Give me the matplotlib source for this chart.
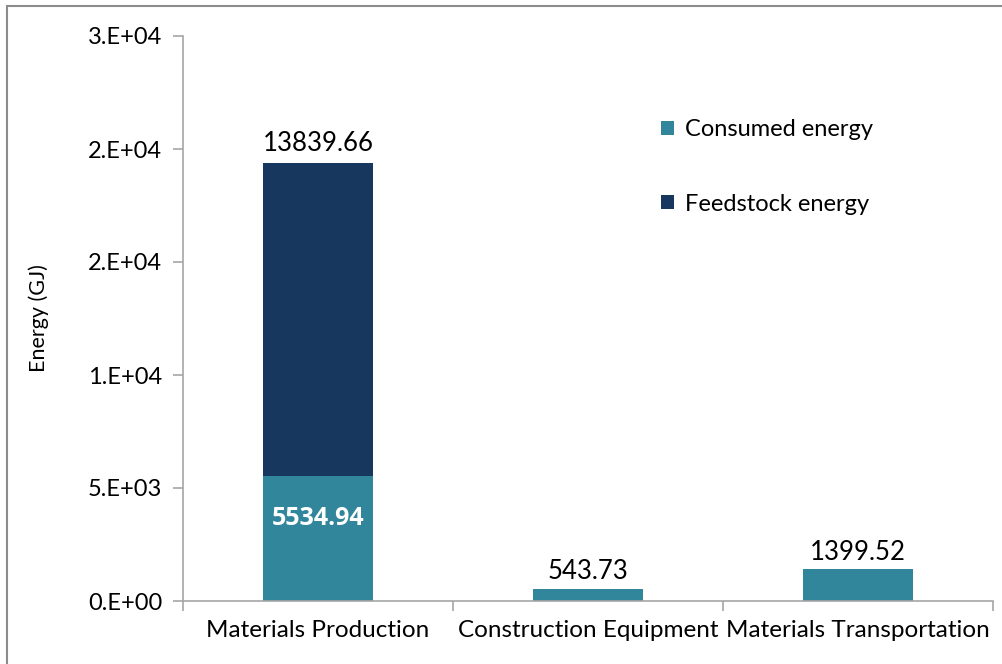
import matplotlib.pyplot as plt
from matplotlib.patches import Rectangle

plt.rcParams['font.family'] = ['Lato', 'DejaVu Sans']

# data
categories = ['Materials Production', 'Construction Equipment', 'Materials Transportation']
consumed = [5534.94, 543.73, 1399.52]
feedstock = [13839.66, 0, 0]
yticks = [0, 5000, 10000, 15000, 20000, 25000]
ytick_labels = ['0.E+00', '5.E+03', '1.E+04', '2.E+04', '2.E+04', '3.E+04']

teal = '#31869B'
navy = '#17375E'
gray = '#A6A6A6'

fig = plt.figure(figsize=(10.03, 6.64), dpi=100)
ax = fig.add_axes([183/1003, 1 - 601/664, 810/1003, 565/664])

x = list(range(len(categories)))
ax.bar(x, consumed, width=0.404, color=teal, label='Consumed energy')
ax.bar(x[:1], feedstock[:1], bottom=consumed[:1], width=0.404, color=navy,
       label='Feedstock energy')

# labels
ax.text(0, consumed[0] + feedstock[0] + 300, f'{feedstock[0]:.2f}', ha='center',
        va='bottom', fontsize=18.5)
ax.text(0, consumed[0] - 1900, f'{consumed[0]:.2f}', ha='center', va='center',
        fontsize=18, color='white', fontweight='bold', family=['Open Sans', 'DejaVu Sans'])
for i in (1, 2):
    ax.text(i, consumed[i] + 200, f'{consumed[i]:.2f}', ha='center', va='bottom',
            fontsize=18.5)

ax.set_xlim(-0.5, 2.5)
ax.set_ylim(0, 25000)
ax.set_yticks(yticks)
ax.set_yticklabels(ytick_labels, fontsize=17)
ax.set_xticks(x)
ax.set_xticklabels(categories, fontsize=17.5)
ax.tick_params(axis='x', length=0, pad=14)
ax.set_xticks([-0.5, 0.5, 1.5, 2.5], minor=True)
ax.tick_params(axis='x', which='minor', length=7, color=gray, width=1.2)
ax.tick_params(axis='y', length=7, color=gray, width=1.2, pad=8)
ax.set_ylabel('Energy (GJ)', fontsize=15.5, labelpad=28)

for s in ('top', 'right'):
    ax.spines[s].set_visible(False)
for s in ('left', 'bottom'):
    ax.spines[s].set_color(gray)
    ax.spines[s].set_linewidth(1.2)

ax.legend(loc='upper left', bbox_to_anchor=(0.564, 0.89), frameon=False, fontsize=17,
          handlelength=0.55, handleheight=0.55, handletextpad=0.45, labelspacing=2.25)

fig.patches.append(Rectangle((7/1003, -0.5), 2, 1.5 - 6/664, transform=fig.transFigure,
                             fill=False, edgecolor='#8C8C8C', linewidth=1.5))

plt.savefig('out.png')
